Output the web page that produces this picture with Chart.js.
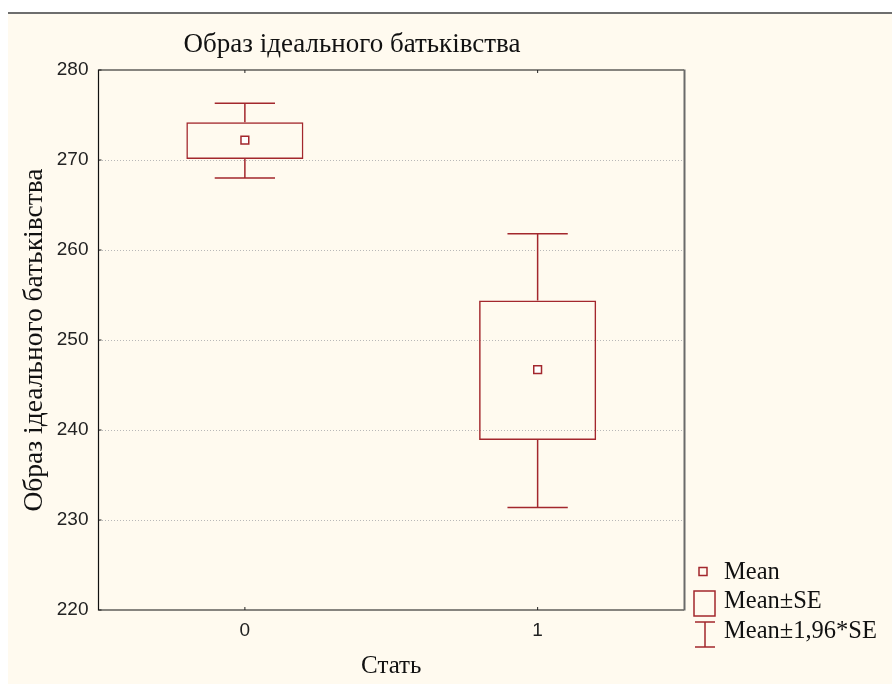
<!DOCTYPE html>
<html>
<head>
<meta charset="utf-8">
<script src="https://cdn.jsdelivr.net/npm/chart.js@4"></script>
<style>
  html, body { margin: 0; padding: 0; background: #fff; }
  #wrap {
    position: absolute; left: 8px; top: 12px;
    width: 884px; height: 672px;
    box-sizing: border-box;
    border-top: 2px solid #6e6e6e;
    background: #fffaef;
  }
  canvas { display: block; }
</style>
</head>
<body>
<div id="wrap"><canvas id="chart" width="884" height="670"></canvas></div>
<script>
const categories = ["0", "1"];
const means = [272.2, 246.7];
const seLow = [270.1, 238.9];
const seHigh = [274.2, 254.4];
const ciLow = [268.0, 231.4];
const ciHigh = [276.3, 261.8];
const yTicks = [220, 230, 240, 250, 260, 270, 280];

const red = "#a3272d";
const serif = "'Liberation Serif', 'Times New Roman', serif";
const sans = "'Liberation Sans', Arial, sans-serif";

// whiskers, frame, inward tick marks, title and legend
const extras = {
  id: "extras",
  afterDatasetsDraw(chart) {
    const { ctx, chartArea: a, scales: { x, y } } = chart;
    const step = x.getPixelForValue(1) - x.getPixelForValue(0);
    const half = step * 0.103;

    ctx.save();
    ctx.strokeStyle = red;
    ctx.lineWidth = 1.5;
    categories.forEach((c, i) => {
      const px = x.getPixelForValue(i);
      ctx.beginPath();
      ctx.moveTo(px, y.getPixelForValue(seHigh[i]));
      ctx.lineTo(px, y.getPixelForValue(ciHigh[i]));
      ctx.moveTo(px - half, y.getPixelForValue(ciHigh[i]));
      ctx.lineTo(px + half, y.getPixelForValue(ciHigh[i]));
      ctx.moveTo(px, y.getPixelForValue(seLow[i]));
      ctx.lineTo(px, y.getPixelForValue(ciLow[i]));
      ctx.moveTo(px - half, y.getPixelForValue(ciLow[i]));
      ctx.lineTo(px + half, y.getPixelForValue(ciLow[i]));
      ctx.stroke();
    });

    // frame
    ctx.strokeStyle = "#111";
    ctx.lineWidth = 1.2;
    ctx.beginPath();
    ctx.moveTo(a.right, a.top);
    ctx.lineTo(a.left, a.top);
    ctx.lineTo(a.left, a.bottom);
    ctx.lineTo(a.right, a.bottom);
    ctx.stroke();
    ctx.strokeStyle = "#6a6a6a";
    ctx.lineWidth = 2;
    ctx.beginPath();
    ctx.moveTo(a.right + 0.5, a.top - 0.5);
    ctx.lineTo(a.right + 0.5, a.bottom + 0.5);
    ctx.stroke();

    // inward tick marks
    ctx.strokeStyle = "#222";
    ctx.lineWidth = 1;
    ctx.beginPath();
    yTicks.forEach(v => {
      const py = y.getPixelForValue(v);
      ctx.moveTo(a.left, py);
      ctx.lineTo(a.left + 3, py);
    });
    categories.forEach((c, i) => {
      const px = x.getPixelForValue(i);
      ctx.moveTo(px, a.top);
      ctx.lineTo(px, a.top + 3);
      ctx.moveTo(px, a.bottom);
      ctx.lineTo(px, a.bottom - 3);
    });
    ctx.stroke();

    // title
    ctx.fillStyle = "#111";
    ctx.font = "27px " + serif;
    ctx.textAlign = "center";
    ctx.textBaseline = "middle";
    ctx.fillText("Образ ідеального батьківства", a.left + 253.5, 31);

    // legend
    const lx = a.right;
    ctx.strokeStyle = red;
    ctx.lineWidth = 1.5;
    ctx.strokeRect(lx + 15, 553.5, 8, 8);
    ctx.strokeRect(lx + 10, 577, 21, 25);
    ctx.beginPath();
    ctx.moveTo(lx + 11, 608); ctx.lineTo(lx + 31, 608);
    ctx.moveTo(lx + 21, 608); ctx.lineTo(lx + 21, 633);
    ctx.moveTo(lx + 11, 633); ctx.lineTo(lx + 31, 633);
    ctx.stroke();
    ctx.fillStyle = "#111";
    ctx.font = "24.5px " + serif;
    ctx.textAlign = "left";
    ctx.fillText("Mean", lx + 40, 559);
    ctx.fillText("Mean±SE", lx + 40, 588);
    ctx.fillText("Mean±1,96*SE", lx + 40, 618);
    ctx.restore();
  }
};

new Chart(document.getElementById("chart"), {
  data: {
    labels: categories,
    datasets: [
      {
        type: "bar",
        label: "Mean±SE",
        data: seLow.map((v, i) => [v, seHigh[i]]),
        backgroundColor: "rgba(0,0,0,0)",
        borderColor: red,
        borderWidth: 1.5,
        borderSkipped: false,
        barPercentage: 0.4,
        categoryPercentage: 1,
        order: 2
      },
      {
        type: "line",
        label: "Mean",
        data: means,
        showLine: false,
        pointStyle: "rect",
        pointRadius: 5.5,
        pointHoverRadius: 5.5,
        pointBorderColor: red,
        pointBackgroundColor: "#fff",
        pointBorderWidth: 1.5,
        order: 1
      }
    ]
  },
  options: {
    responsive: false,
    animation: false,
    layout: { padding: { top: 56, right: 208, left: 0, bottom: 0 } },
    plugins: {
      legend: { display: false },
      tooltip: { enabled: false },
      title: { display: false }
    },
    scales: {
      x: {
        type: "category",
        offset: true,
        grid: { display: false, drawTicks: false },
        border: { display: false },
        ticks: { color: "#222", font: { family: sans, size: 19 }, padding: 9 },
        title: {
          display: true, text: "Стать", color: "#111",
          font: { family: serif, size: 25 }, padding: { top: 0, bottom: 3 }
        },
        afterFit(scale) { scale.height = 74; }
      },
      y: {
        min: 220, max: 280,
        afterBuildTicks(scale) { scale.ticks = yTicks.map(v => ({ value: v })); },
        grid: {
          drawTicks: false,
          color: c => (c.tick && c.tick.value > 220 && c.tick.value < 280) ? "#b8b8b8" : "rgba(0,0,0,0)",
          lineWidth: 1
        },
        border: { display: false, dash: [1, 2] },
        ticks: { color: "#222", font: { family: sans, size: 19 }, padding: 10 },
        title: {
          display: true, text: "Образ ідеального батьківства", color: "#111",
          font: { family: serif, size: 27.5 }, padding: { top: 10.5, bottom: 0 }
        },
        afterFit(scale) { scale.width = 90.5; }
      }
    }
  },
  plugins: [extras]
});
</script>
</body>
</html>
